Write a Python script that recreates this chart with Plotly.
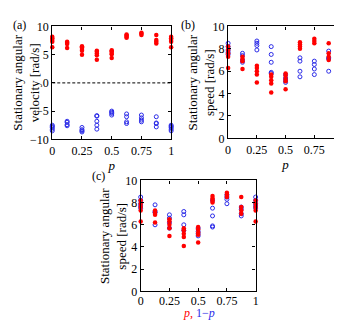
import plotly.graph_objects as go

# ---- data ----
p_values = [0, 0.125, 0.25, 0.375, 0.5, 0.625, 0.75, 0.875, 1]
red_speeds = [
    [8.2, 7.9, 7.6, 7.3, 6.3],
    [7.3, 7.1, 6.9, 6.2],
    [6.5, 6.3, 6.0, 5.7, 5.0],
    [5.7, 5.5, 5.2, 4.9, 4.1],
    [5.8, 5.6, 5.3, 5.1, 4.4],
    [8.6, 8.4, 8.2, 8.0],
    [8.9, 8.7, 8.5],
    [8.5, 7.6, 7.3, 7.0],
    [8.2, 7.9, 7.6, 7.3, 6.3],
]
blue_speeds = [
    [8.5, 8.2, 7.9, 7.7, 7.5],
    [7.6, 7.4, 7.0, 6.8],
    [8.7, 8.5, 8.3, 7.9],
    [8.2, 7.5, 6.8, 5.9, 5.8],
    [5.7, 5.4, 5.2, 5.0],
    [7.2, 6.9, 6.0, 5.5],
    [6.9, 6.6, 6.2, 5.7],
    [7.8, 7.2, 7.1, 6.0],
    [8.5, 8.2, 7.9, 7.7, 7.5],
]
x_tickvals = [0, 0.25, 0.5, 0.75, 1]
x_ticktext = ["0", "0.25", "0.5", "0.75", "1"]

RED = "#ff0000"
BLUE = "#2b2be8"
FONT = "Liberation Serif, Times New Roman, DejaVu Serif, serif"


def flat(groups, xs, transform=lambda x: x, sign=1):
    X, Y = [], []
    for x, g in zip(xs, groups):
        for v in g:
            X.append(transform(x))
            Y.append(sign * v)
    return X, Y


fig = go.Figure()

red_marker = dict(color=RED, size=4.5, symbol="circle", line=dict(width=0))
blue_marker = dict(color=BLUE, size=4, symbol="circle-open", line=dict(width=1, color=BLUE))

# Panel (a)
xr, yr = flat(red_speeds, p_values)
xb, yb = flat(blue_speeds, p_values, sign=-1)
fig.add_trace(go.Scatter(x=xb, y=yb, mode="markers", marker=blue_marker, xaxis="x", yaxis="y", cliponaxis=False, showlegend=False))
fig.add_trace(go.Scatter(x=xr, y=yr, mode="markers", marker=red_marker, xaxis="x", yaxis="y", cliponaxis=False, showlegend=False))

# Panel (b)
xb2, yb2 = flat(blue_speeds, p_values)
fig.add_trace(go.Scatter(x=xb2, y=yb2, mode="markers", marker=blue_marker, xaxis="x2", yaxis="y2", cliponaxis=False, showlegend=False))
fig.add_trace(go.Scatter(x=xr, y=yr, mode="markers", marker=red_marker, xaxis="x2", yaxis="y2", cliponaxis=False, showlegend=False))

# Panel (c): red vs p, blue vs 1-p
xb3, yb3 = flat(blue_speeds, p_values, transform=lambda x: 1 - x)
fig.add_trace(go.Scatter(x=xb3, y=yb3, mode="markers", marker=blue_marker, xaxis="x3", yaxis="y3", cliponaxis=False, showlegend=False))
fig.add_trace(go.Scatter(x=xr, y=yr, mode="markers", marker=red_marker, xaxis="x3", yaxis="y3", cliponaxis=False, showlegend=False))

W, H = 342, 320


def xd(a, b):
    return [a / W, b / W]


def yd(top, bottom):
    return [1 - bottom / H, 1 - top / H]


axis_common = dict(
    showline=True, linecolor="black", linewidth=1.3, mirror="ticks",
    ticks="inside", ticklen=3, tickwidth=1, tickcolor="black",
    showgrid=False, zeroline=False,
    tickfont=dict(family=FONT, size=12, color="black"),
)
xcommon = dict(axis_common, range=[0, 1], tickvals=x_tickvals, ticktext=x_ticktext)

fig.update_layout(
    width=W, height=H,
    margin=dict(l=0, r=0, t=0, b=0),
    paper_bgcolor="white", plot_bgcolor="white",
    font=dict(family=FONT, size=12, color="black"),
    xaxis=dict(xcommon, domain=xd(42, 163), anchor="y",
               title=dict(text="<i>p</i>", font=dict(family=FONT, size=13), standoff=0)),
    yaxis=dict(axis_common, domain=yd(12, 130), anchor="x", range=[-10, 10],
               tickvals=[-10, -5, 0, 5, 10]),
    xaxis2=dict(xcommon, domain=xd(221, 338), anchor="y2",
                title=dict(text="<i>p</i>", font=dict(family=FONT, size=13), standoff=0)),
    yaxis2=dict(axis_common, domain=yd(12, 129), anchor="x2", range=[0, 10], dtick=2),
    xaxis3=dict(xcommon, domain=xd(132, 249), anchor="y3", ticklabelstandoff=-2),
    yaxis3=dict(axis_common, domain=yd(173, 289), anchor="x3", range=[0, 10], dtick=2),
    shapes=[dict(type="line", xref="x", yref="y", x0=0, x1=1, y0=0, y1=0,
                 line=dict(color="black", width=1, dash="3px,2px"))],
)

ann_font = dict(family=FONT, size=12, color="black")
annotations = [
    dict(text="(a)", x=0, y=1 - 1 / H, xref="paper", yref="paper", xanchor="left", yanchor="top",
         showarrow=False, font=ann_font),
    dict(text="(b)", x=171 / W, y=1 - 1 / H, xref="paper", yref="paper", xanchor="left", yanchor="top",
         showarrow=False, font=ann_font),
    dict(text="(c)", x=80 / W, y=1 - 159 / H, xref="paper", yref="paper", xanchor="left", yanchor="top",
         showarrow=False, font=ann_font),
    dict(text="Stationary angular<br>velocity [rad/s]", x=15 / W, y=1 - 71 / H, xref="paper", yref="paper",
         xanchor="center", yanchor="middle", textangle=-90, showarrow=False, font=dict(family=FONT, size=13)),
    dict(text="Stationary angular<br>speed [rad/s]", x=193 / W, y=1 - 71 / H, xref="paper", yref="paper",
         xanchor="center", yanchor="middle", textangle=-90, showarrow=False, font=dict(family=FONT, size=13)),
    dict(text="Stationary angular<br>speed [rad/s]", x=104 / W, y=1 - 231 / H, xref="paper", yref="paper",
         xanchor="center", yanchor="middle", textangle=-90, showarrow=False, font=dict(family=FONT, size=13)),
    dict(text=f"<span style='color:{RED}'><i>p</i>,</span> <span style='color:{BLUE}'>1\u2212<i>p</i></span>",
         x=191 / W, y=0, xref="paper", yref="paper", xanchor="center", yanchor="bottom",
         showarrow=False, font=dict(family=FONT, size=12), borderpad=0),
]
fig.update_layout(annotations=annotations)

fig.write_html("out.html")
